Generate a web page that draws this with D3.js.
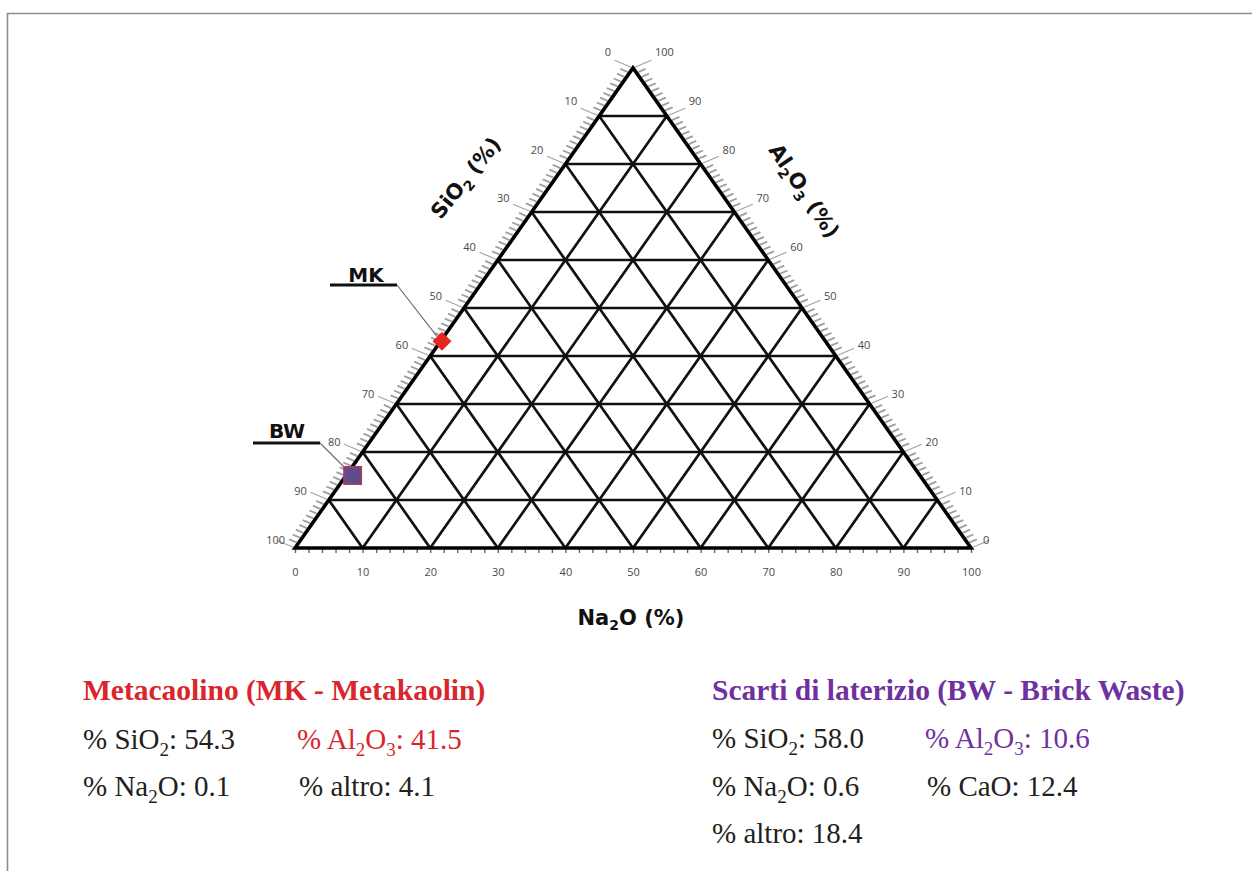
<!DOCTYPE html>
<html>
<head>
<meta charset="utf-8">
<script src="https://cdn.jsdelivr.net/npm/d3@7"></script>
<style>
  html, body { margin: 0; padding: 0; background: #fff; }
  svg { display: block; }
</style>
</head>
<body>
<svg id="chart" width="1252" height="871"></svg>
<script>
// Oxide composition (wt %) of the two raw materials
const samples = ["MK", "BW"];
const sio2  = [54.3, 58.0];
const al2o3 = [41.5, 10.6];
const na2o  = [0.1, 0.6];
const cao   = [null, 12.4];
const altro = [4.1, 18.4];

// Ternary axis graduation
const tickValues = [0, 10, 20, 30, 40, 50, 60, 70, 80, 90, 100];
const minorStep = 1;
const baseMinorStep = 2;

const svg = d3.select("#chart");

// Page frame
svg.append("path")
  .attr("d", "M7.5,871 L7.5,13.5 L1252,13.5")
  .attr("fill", "none").attr("stroke", "#8e8e8e").attr("stroke-width", 1.6);

// Triangle geometry: SiO2 at lower-left, Na2O at lower-right, Al2O3 at the apex
const xL = 295, xR = 971, yB = 548, yT = 68;
const baseX = d3.scaleLinear().domain([0, 100]).range([xL, xR]);
const heightY = d3.scaleLinear().domain([0, 100]).range([yB, yT]);

function proj(s, a, n) {
  const t = s + a + n;
  const aa = 100 * a / t, nn = 100 * n / t;
  return [baseX(nn + aa / 2), heightY(aa)];
}

const chart = svg.append("g");
const line = d3.line();

// Interior grid, every 10 %
const grid = chart.append("g").attr("stroke", "#111").attr("stroke-width", 2.7).attr("fill", "none");
tickValues.filter(k => k > 0 && k < 100).forEach(k => {
  grid.append("path").attr("d", line([proj(100 - k, k, 0), proj(0, k, 100 - k)]));   // Al2O3 constant
  grid.append("path").attr("d", line([proj(100 - k, 0, k), proj(0, 100 - k, k)]));   // Na2O constant
  grid.append("path").attr("d", line([proj(k, 100 - k, 0), proj(k, 0, 100 - k)]));   // SiO2 constant
});

// Graduated side scales (SiO2 on the left, Al2O3 on the right)
const dirL = [-0.92, -0.39], dirR = [0.92, -0.39];
const sideTicks = chart.append("g").attr("fill", "none");
const sideLabels = chart.append("g")
  .attr("font-family", "'Open Sans', 'Liberation Sans', sans-serif")
  .attr("font-size", 11).attr("fill", "#4a4a4a");

d3.range(0, 100 + minorStep, minorStep).forEach(v => {
  const major = v % 10 === 0;
  const len = major ? 20 : 10;
  const pl = proj(v, 100 - v, 0);
  const pr = proj(0, v, 100 - v);
  sideTicks.append("path")
    .attr("d", line([[pl[0] + dirL[0] * 2, pl[1] + dirL[1] * 2], [pl[0] + dirL[0] * len, pl[1] + dirL[1] * len]]))
    .attr("stroke", major ? "#a4a4a4" : "#a0a0a0").attr("stroke-width", major ? 1.2 : 1.9);
  sideTicks.append("path")
    .attr("d", line([[pr[0] + dirR[0] * 2, pr[1] + dirR[1] * 2], [pr[0] + dirR[0] * len, pr[1] + dirR[1] * len]]))
    .attr("stroke", major ? "#a4a4a4" : "#a0a0a0").attr("stroke-width", major ? 1.2 : 1.9);
});

tickValues.forEach(v => {
  const pl = proj(v, 100 - v, 0);
  const fl = (100 - v) / 100;
  sideLabels.append("text")
    .attr("x", pl[0] - (v === 100 ? 10 : 22))
    .attr("y", pl[1] - 7 - 8 * fl)
    .attr("text-anchor", "end").attr("dominant-baseline", "middle")
    .text(v);
  const pr = proj(0, v, 100 - v);
  const fr = v / 100;
  sideLabels.append("text")
    .attr("x", pr[0] + (v === 0 ? 12 : 22))
    .attr("y", pr[1] - 7 - 8 * fr)
    .attr("text-anchor", "start").attr("dominant-baseline", "middle")
    .text(v);
});

// Na2O scale along the base
const baseAxis = d3.axisBottom(baseX)
  .tickValues(d3.range(0, 100 + baseMinorStep, baseMinorStep))
  .tickSize(5).tickPadding(15)
  .tickFormat(d => d % 10 === 0 ? d : "");
const gBase = chart.append("g").attr("transform", `translate(0,${yB})`).call(baseAxis);
gBase.select(".domain").remove();
gBase.selectAll(".tick line").attr("stroke", "#666").attr("stroke-width", 1.4);
gBase.selectAll(".tick text")
  .attr("font-family", "'Open Sans', 'Liberation Sans', sans-serif")
  .attr("font-size", 11).attr("fill", "#4a4a4a");

// Outline of the triangle
chart.append("path")
  .attr("d", line([proj(100, 0, 0), proj(0, 100, 0), proj(0, 0, 100)]) + "Z")
  .attr("fill", "none").attr("stroke", "#000").attr("stroke-width", 3.6)
  .attr("stroke-linejoin", "miter");

// Axis titles; each subscript is followed by a tspan that resets the baseline
const titleFont = "'DejaVu Sans', 'Liberation Sans', sans-serif";
function titleWithSubs(g, parts) {
  const t = g.append("text")
    .attr("font-family", titleFont).attr("font-weight", "bold")
    .attr("font-size", 21).attr("fill", "#111").attr("text-anchor", "middle");
  let shifted = false;
  parts.forEach(([txt, sub]) => {
    const sp = t.append("tspan").text(txt);
    if (sub) { sp.attr("font-size", 14).attr("dy", shifted ? 0 : 5); shifted = true; }
    else { sp.attr("dy", shifted ? -5 : 0); shifted = false; }
  });
  return t;
}

titleWithSubs(chart.append("g").attr("transform", "translate(466,178) rotate(-51)"),
  [["SiO", false], ["2", true], [" (%)", false]]).attr("y", 7);
titleWithSubs(chart.append("g").attr("transform", "translate(804,191) rotate(56)"),
  [["Al", false], ["2", true], ["O", false], ["3", true], [" (%)", false]]).attr("y", 7);
titleWithSubs(chart.append("g").attr("transform", "translate(631,625)"),
  [["Na", false], ["2", true], ["O (%)", false]]);

// Sample points with their callouts
const points = samples.map((name, i) => ({
  name, p: proj(sio2[i], al2o3[i], na2o[i])
}));

const callouts = [
  { name: "MK", text: [366, 282], bar: [330, 397, 285], end: [-5, -4] },
  { name: "BW", text: [287, 438], bar: [253, 320, 443], end: [-8, -7] }
];
const marks = chart.append("g");
callouts.forEach(c => {
  const pt = points.find(d => d.name === c.name).p;
  marks.append("path")
    .attr("d", line([[c.bar[1], c.bar[2]], [pt[0] + c.end[0], pt[1] + c.end[1]]]))
    .attr("stroke", "#6f6f6f").attr("stroke-width", 1.2).attr("fill", "none");
  marks.append("path")
    .attr("d", line([[c.bar[0], c.bar[2]], [c.bar[1], c.bar[2]]]))
    .attr("stroke", "#111").attr("stroke-width", 3.2).attr("fill", "none");
  marks.append("text")
    .attr("x", c.text[0]).attr("y", c.text[1])
    .attr("text-anchor", "middle")
    .attr("font-family", titleFont).attr("font-weight", "bold")
    .attr("font-size", 20).attr("fill", "#111")
    .text(c.name);
});

const mk = points[0].p, bw = points[1].p;
marks.append("path")
  .attr("d", d3.symbol(d3.symbolSquare, 160)())
  .attr("transform", `translate(${mk[0]},${mk[1] + 1}) rotate(45)`)
  .attr("fill", "#e8261f").attr("stroke", "#c41a18").attr("stroke-width", 0.8);
marks.append("path")
  .attr("d", d3.symbol(d3.symbolSquare, 300)())
  .attr("transform", `translate(${bw[0]},${bw[1] + 1})`)
  .attr("fill", "#5d4b8e").attr("stroke", "#b0385e").attr("stroke-width", 1.6);

// Composition tables below the diagram
const serif = "'Liberation Serif', 'Times New Roman', serif";
const red = "#d8262c", purple = "#7030a0", ink = "#231f20";

function richLine(x, y, parts, color, bold) {
  const t = svg.append("text")
    .attr("x", x).attr("y", y)
    .attr("font-family", serif).attr("font-size", 29)
    .attr("font-weight", bold ? "bold" : "normal")
    .attr("fill", color);
  let shifted = false;
  parts.forEach(part => {
    const sub = Array.isArray(part);
    const sp = t.append("tspan").text(sub ? part[0] : part);
    if (sub) { sp.attr("font-size", 19).attr("dy", shifted ? 0 : 7); shifted = true; }
    else if (shifted) { sp.attr("dy", -7); shifted = false; }
  });
  return t;
}

const fmt = d3.format(".1f");

richLine(83, 700, ["Metacaolino (MK - Metakaolin)"], red, true).attr("font-size", 29.5);
richLine(83, 749, ["% SiO", ["2"], ": " + fmt(sio2[0])], ink);
richLine(297, 749, ["% Al", ["2"], "O", ["3"], ": " + fmt(al2o3[0])], red);
richLine(83, 796, ["% Na", ["2"], "O: " + fmt(na2o[0])], ink);
richLine(299, 796, ["% altro: " + fmt(altro[0])], ink);

richLine(712, 700, ["Scarti di laterizio (BW - Brick Waste)"], purple, true).attr("font-size", 29.5);
richLine(712, 748, ["% SiO", ["2"], ": " + fmt(sio2[1])], ink);
richLine(925, 748, ["% Al", ["2"], "O", ["3"], ": " + fmt(al2o3[1])], purple);
richLine(712, 796, ["% Na", ["2"], "O: " + fmt(na2o[1])], ink);
richLine(927, 796, ["% CaO: " + fmt(cao[1])], ink);
richLine(712, 843, ["% altro: " + fmt(altro[1])], ink);
</script>
</body>
</html>
